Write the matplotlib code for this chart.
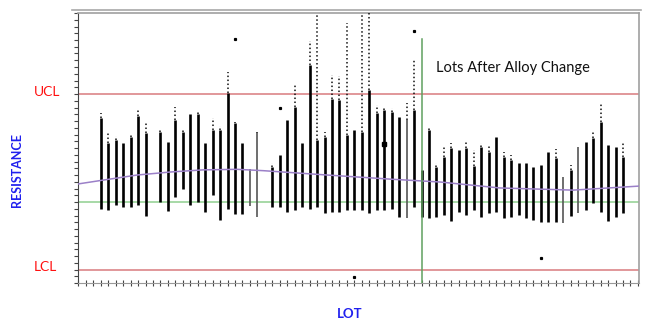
import matplotlib
matplotlib.use("Agg")
import matplotlib.pyplot as plt
from matplotlib.lines import Line2D
import numpy as np

plt.rcParams['font.family'] = ['Lato', 'DejaVu Sans']

# control limits (resistance, arbitrary units)
ucl = 70.0
lcl = 5.0
center = 30.0
alloy_change_lot = 43.1

# per-lot ranges (nan = no data for that lot)
solid_hi = [61.0, 51.7, 53.0, 52.0, 54.2, 61.9, 55.4, np.nan, 56.0, 52.3,
            60.4, 56.0, 62.6, 62.6, 51.7, 56.7, 56.7, 70.3, 59.1, 52.0,
            42.1, 55.4, np.nan, 43.1, 47.4, 60.4, 65.3, 52.0, 80.7, 53.0,
            54.2, 68.0, 67.8, 55.0, 56.7, 56.0, 71.5, 62.9, 64.1, 63.4,
            61.4, 60.4, 64.1, 41.9, 56.7, 43.1, 46.8, 49.9, 49.3, 49.9,
            43.2, 50.5, 48.6, 54.2, 46.8, 45.6, 44.3, 44.3, 43.1, 43.7,
            48.6, 46.2, 39.4, 41.9, 50.5, 52.3, 53.6, 59.7, 51.1, 50.5,
            46.8]
solid_lo = [27.3, 27.0, 28.9, 28.3, 28.3, 28.9, 24.8, np.nan, 30.1, 26.7,
            32.0, 35.0, 28.9, 30.1, 26.4, 32.6, 23.3, 27.3, 25.6, 25.6,
            28.5, 24.6, np.nan, 28.3, 28.3, 26.4, 27.0, 28.3, 27.3, 28.3,
            26.0, 26.4, 26.4, 27.0, 27.0, 27.0, 25.8, 27.0, 27.0, 27.3,
            24.6, 24.0, 28.3, 24.6, 24.0, 24.4, 25.2, 23.0, 26.4, 25.2,
            27.0, 24.6, 25.8, 26.4, 24.0, 24.4, 25.2, 24.0, 23.3, 22.7,
            22.7, 22.7, 22.1, 25.0, 25.8, 27.0, 29.5, 26.4, 23.1, 24.6,
            25.8]
dots_hi = [62.9, 55.7, 54.4, 52.0, 55.2, 64.1, 59.7, np.nan, 56.9, 52.3,
           65.3, 56.9, 62.6, 63.8, 51.7, 61.0, 58.1, 78.3, 59.7, 52.0,
           42.1, 56.0, np.nan, 44.3, 47.4, 60.4, 73.3, 52.0, 89.7, 99.3,
           56.0, 77.0, 76.7, 96.2, 56.7, 99.3, 100.0, 65.9, 64.7, 64.7,
           61.4, 66.7, 82.6, 41.9, 57.9, 44.6, 50.5, 51.7, 49.3, 52.3,
           49.3, 51.7, 51.1, 54.2, 48.6, 47.4, 44.3, 44.3, 43.1, 43.7,
           48.6, 49.6, 39.4, 43.7, 50.5, 52.3, 56.4, 66.5, 51.1, 50.5,
           52.3]
thin_lots = [20, 21, 41, 62, 64]

# isolated readings
outlier_lot = [18, 24, 34, 42, 59]
outlier_val = [90.3, 64.7, 2.3, 93.4, 9.1]
flagged_lot = [38]
flagged_val = [51.4]

# smoothed trend (purple)
trend_x = [-3.0, 0.3, 4.9, 9.3, 13.7, 18.3, 21.8, 30.3, 39.2, 45.5, 53.5, 63.3, 72.2]
trend_y = [36.7, 38.1, 40.0, 41.1, 41.9, 42.1, 41.6, 40.0, 38.4, 37.4, 35.2, 34.4, 35.9]

lots = np.arange(len(solid_hi))
solid_hi = np.array(solid_hi)
solid_lo = np.array(solid_lo)
dots_hi = np.array(dots_hi)
thick = np.array([i not in thin_lots for i in lots])

fig = plt.figure(figsize=(6.5, 3.23), dpi=100)
ax = fig.add_axes([78 / 650, 40 / 323, 561 / 650, 270 / 323])

ax.axhline(ucl, color='#d87a7e', lw=1.1, zorder=1)
ax.axhline(lcl, color='#d87a7e', lw=1.1, zorder=1)
ax.axhline(center, color='#8fd08f', lw=1.1, zorder=1)

ax.vlines(lots[thick], solid_lo[thick], solid_hi[thick], color='black', lw=1.9, zorder=3)
ax.vlines(lots[~thick], solid_lo[~thick], solid_hi[~thick], color='#555555', lw=1.2, zorder=3)
ax.vlines(lots, solid_hi, dots_hi, color='#111111', lw=1.1,
          linestyles=[(0, (1, 1.6))], zorder=3)
ax.plot(outlier_lot, outlier_val, 's', color='black', ms=1.3, zorder=4)
ax.plot(flagged_lot, flagged_val, 's', color='black', ms=3.5, zorder=4)

ax.plot(trend_x, trend_y, color='#9b80c8', lw=1.1, zorder=5)
ax.plot([alloy_change_lot, alloy_change_lot], [-5, 90.4], color='#5fa05f', lw=1.1, zorder=6)

ax.text(44.95, 78.0, 'Lots After Alloy Change', fontsize=10.5, color='#111111',
        ha='left', va='baseline')

ax.set_xlim(-3.05, 72.15)
ax.set_ylim(0, 100)
ax.set_xticks(np.arange(-3, 73))
ax.set_yticks(np.arange(0, 100.1, 2.5))
ax.set_xticklabels([])
ax.set_yticklabels([])
ax.tick_params(axis='x', direction='inout', length=4, width=0.8, color='#444444')
ax.tick_params(axis='y', direction='out', length=3, width=0.8, color='#444444')
for side in ['top', 'right']:
    ax.spines[side].set_color('#a0a0a0')
    ax.spines[side].set_linewidth(1.2)
ax.spines['left'].set_color('#444444')
ax.spines['bottom'].set_color('#999999')

# double frame line above the plot
fig.add_artist(Line2D([72 / 650, 641 / 650], [313.5 / 323, 313.5 / 323],
                      color='#a8a8a8', lw=1.2))

fig.text(34 / 650, (323 - 92.5) / 323, 'UCL', color='#ff1010', fontsize=10,
         ha='left', va='center')
fig.text(34 / 650, (323 - 267) / 323, 'LCL', color='#ff1010', fontsize=10,
         ha='left', va='center')
fig.text(17.5 / 650, (323 - 170) / 323, 'RESISTANCE', color='#2020ee', fontsize=9,
         fontweight='bold', rotation=90, ha='center', va='center')
fig.text(350 / 650, (323 - 314) / 323, 'LOT', color='#2020ee', fontsize=9.5,
         fontweight='bold', ha='center', va='center')

fig.savefig('out.png', dpi=100)
